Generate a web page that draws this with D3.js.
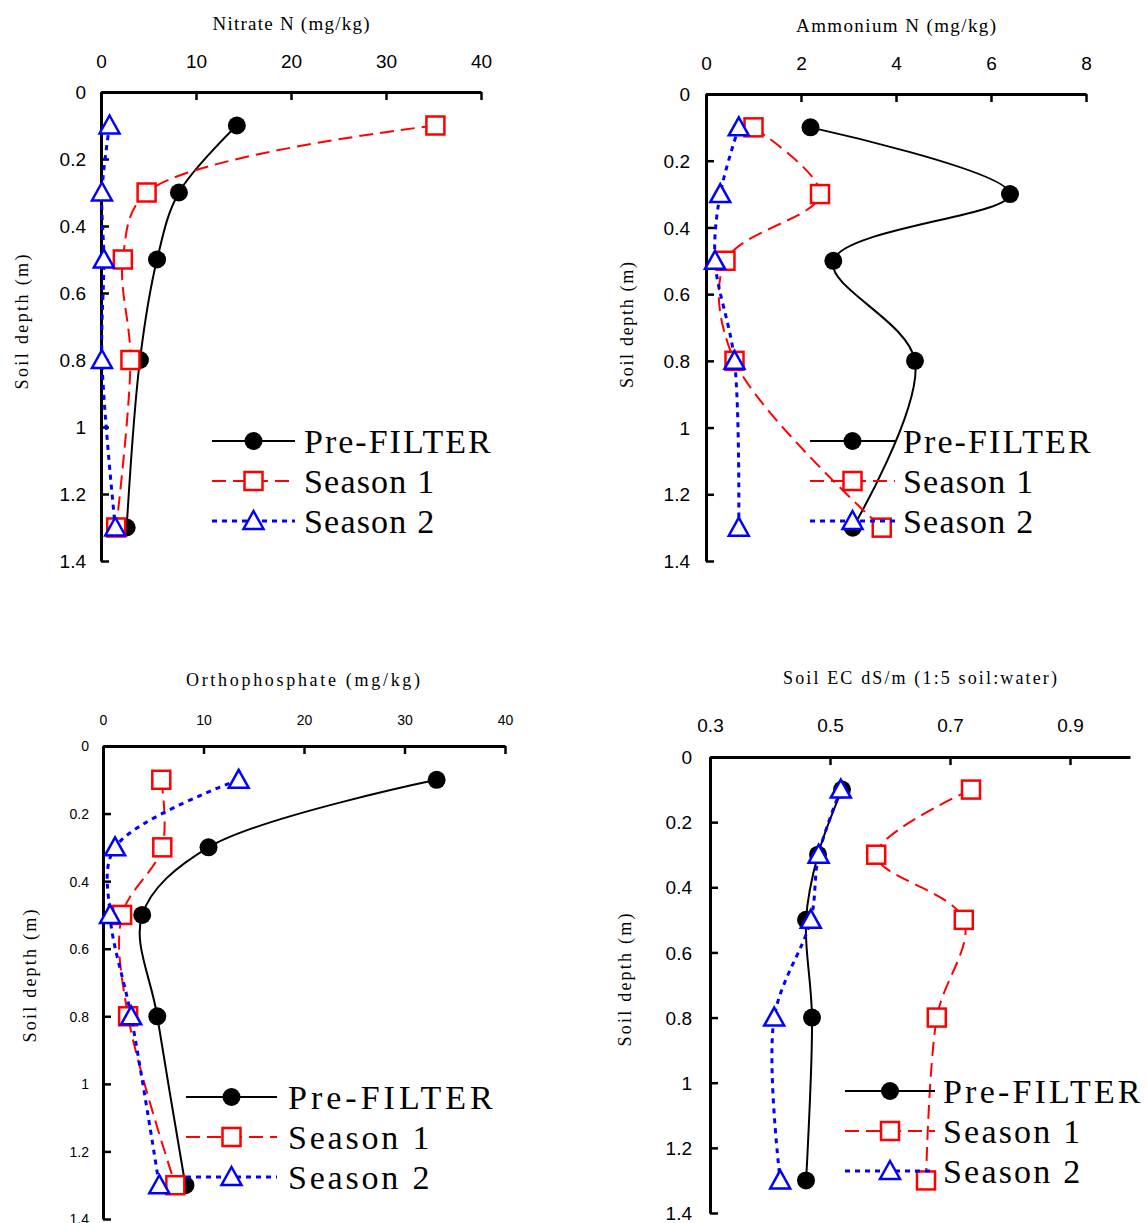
<!DOCTYPE html>
<html>
<head>
<meta charset="utf-8">
<script src="https://cdn.jsdelivr.net/npm/d3@7"></script>
<style>
  body { margin: 0; background: #fff; }
  svg { display: block; }
</style>
</head>
<body>
<div id="chart"></div>
<script>
// sampling depths (m) and series names
var depths = [0.1, 0.3, 0.5, 0.8, 1.3];
var depthTicks = [0, 0.2, 0.4, 0.6, 0.8, 1, 1.2, 1.4];
var seriesNames = ["Pre-FILTER", "Season 1", "Season 2"];

// Nitrate N (mg/kg)
var nitratePre = [14.3, 8.2, 5.9, 4.1, 2.7];
var nitrateS1 = [35.2, 4.8, 2.3, 3.1, 1.6];
var nitrateS2 = [0.9, 0.1, 0.3, 0.1, 1.5];
var nitrateTicks = [0, 10, 20, 30, 40];

// Ammonium N (mg/kg)
var ammoniumPre = [2.2, 6.4, 2.68, 4.4, 3.09];
var ammoniumS1 = [1.0, 2.4, 0.41, 0.6, 3.7];
var ammoniumS2 = [0.69, 0.3, 0.19, 0.6, 0.69];
var ammoniumTicks = [0, 2, 4, 6, 8];

// Orthophosphate (mg/kg)
var orthoPre = [33.2, 10.5, 3.9, 5.4, 8.2];
var orthoS1 = [5.8, 5.9, 1.9, 2.5, 7.2];
var orthoS2 = [13.5, 1.2, 0.7, 2.8, 5.6];
var orthoTicks = [0, 10, 20, 30, 40];

// Soil EC dS/m
var ecPre = [0.52, 0.48, 0.46, 0.47, 0.46];
var ecS1 = [0.735, 0.577, 0.723, 0.678, 0.66];
var ecS2 = [0.518, 0.481, 0.468, 0.407, 0.417];
var ecTicks = [0.3, 0.5, 0.7, 0.9];

var serif = "'Liberation Serif', 'Times New Roman', serif";
var sans = "'Liberation Sans', Arial, sans-serif";

var styles = [
  {color: "#000", dash: null, width: 2, marker: "circle"},
  {color: "#ff0000", dash: "14,7", width: 2, marker: "square"},
  {color: "#0000ff", dash: "5,5", width: 3, marker: "triangle"}
];

var panels = [
  {series: [nitratePre, nitrateS1, nitrateS2], ticks: nitrateTicks, domain: [0, 40],
   left: 101, right: 481, top: 92, bottom: 561,
   title: "Nitrate N  (mg/kg)", tx: 291, ty: 30, tlen: 157, tfont: 19,
   yx: 22, yy: 322, ylen: 135, font: 19, xpad: 24, ypad: 15,
   lx0: 212, lx1: 295, ltx: 304, ly: 441, ls: 1.2, lsPre: 2.0},
  {series: [ammoniumPre, ammoniumS1, ammoniumS2], ticks: ammoniumTicks, domain: [0, 8],
   left: 706, right: 1086, top: 94, bottom: 561,
   title: "Ammonium N  (mg/kg)", tx: 896, ty: 32, tlen: 200, tfont: 19,
   yx: 627, yy: 325, ylen: 126, font: 19, xpad: 24, ypad: 16,
   lx0: 810, lx1: 895, ltx: 903, ly: 441, ls: 1.2, lsPre: 2.1},
  {series: [orthoPre, orthoS1, orthoS2], ticks: orthoTicks, domain: [0, 40],
   left: 103, right: 505, top: 746, bottom: 1219,
   title: "Orthophosphate  (mg/kg)", tx: 303, ty: 686, tlen: 234, tfont: 18,
   yx: 30, yy: 976, ylen: 133, font: 14, xpad: 21, ypad: 14,
   lx0: 186, lx1: 277, ltx: 288, ly: 1097, ls: 2.8, lsPre: 4.0},
  {series: [ecPre, ecS1, ecS2], ticks: ecTicks, domain: [0.3, 1.0],
   left: 710, right: 1130, top: 757, bottom: 1213,
   title: "Soil EC dS/m  (1:5 soil:water)", tx: 920, ty: 684, tlen: 274, tfont: 18,
   yx: 625, yy: 980, ylen: 133, font: 19, xpad: 25, ypad: 18,
   lx0: 845, lx1: 935, ltx: 943, ly: 1091, ls: 2.2, lsPre: 3.2}
];

var svg = d3.select("#chart").append("svg")
    .attr("width", 1147).attr("height", 1223);
svg.append("rect").attr("width", 1147).attr("height", 1223).attr("fill", "#fff");

function drawMarker(g, type, cx, cy, color) {
    if (type == "circle") {
        g.append("circle").attr("cx", cx).attr("cy", cy).attr("r", 9).attr("fill", color);
    } else if (type == "square") {
        g.append("rect").attr("x", cx - 9).attr("y", cy - 9).attr("width", 18).attr("height", 18)
            .attr("fill", "#fff").attr("stroke", color).attr("stroke-width", 2.5);
    } else {
        g.append("path").attr("d", "M" + cx + "," + (cy - 10) + "L" + (cx + 10) + "," + (cy + 8) + "L" + (cx - 10) + "," + (cy + 8) + "Z")
            .attr("fill", "#fff").attr("stroke", color).attr("stroke-width", 2.5).attr("stroke-linejoin", "miter");
    }
}

panels.forEach(function(p) {
    var x = d3.scaleLinear().domain(p.domain).range([p.left, p.right]);
    var y = d3.scaleLinear().domain([0, 1.4]).range([p.top, p.bottom]);

    // x axis on top, ticks pointing down into the plot
    var xa = svg.append("g").attr("transform", "translate(0," + p.top + ")")
        .call(d3.axisTop(x).tickValues(p.ticks).tickFormat(function(d){ return d; })
            .tickSizeInner(-8).tickSizeOuter(0).tickPadding(p.xpad));
    // y axis, ticks pointing right
    var ya = svg.append("g").attr("transform", "translate(" + p.left + ",0)")
        .call(d3.axisLeft(y).tickValues(depthTicks).tickFormat(function(d){ return d; })
            .tickSizeInner(-8).tickSizeOuter(0).tickPadding(p.ypad));

    [xa, ya].forEach(function(a) {
        a.attr("font-family", sans).attr("font-size", p.font);
        a.select(".domain").attr("stroke", "#000").attr("stroke-width", 3);
        a.selectAll(".tick line").attr("stroke", "#000").attr("stroke-width", 2.5);
        a.selectAll(".tick text").attr("fill", "#000");
    });
    ya.selectAll(".tick text").attr("dy", "0.35em");

    svg.append("text").attr("x", p.tx).attr("y", p.ty).attr("text-anchor", "middle")
        .attr("font-family", serif).attr("font-size", p.tfont)
        .attr("textLength", p.tlen).attr("lengthAdjust", "spacing")
        .text(p.title);

    svg.append("text").attr("transform", "translate(" + (p.yx + 6) + "," + p.yy + ") rotate(-90)")
        .attr("text-anchor", "middle").attr("font-family", serif).attr("font-size", 18)
        .attr("textLength", p.ylen).attr("lengthAdjust", "spacing")
        .text("Soil  depth  (m)");

    var line = d3.line()
        .x(function(d){ return x(d[0]); })
        .y(function(d){ return y(d[1]); })
        .curve(d3.curveCatmullRom.alpha(0.5));

    p.series.forEach(function(vals, i) {
        var st = styles[i];
        var pts = vals.map(function(v, k){ return [v, depths[k]]; });
        var g = svg.append("g");
        g.append("path").attr("d", line(pts)).attr("fill", "none")
            .attr("stroke", st.color).attr("stroke-width", st.width)
            .attr("stroke-dasharray", st.dash);
        pts.forEach(function(d) {
            drawMarker(g, st.marker, x(d[0]), y(d[1]), st.color);
        });
    });

    // legend
    seriesNames.forEach(function(name, i) {
        var st = styles[i];
        var ry = p.ly + i * 40;
        var g = svg.append("g");
        g.append("line").attr("x1", p.lx0).attr("x2", p.lx1).attr("y1", ry).attr("y2", ry)
            .attr("stroke", st.color).attr("stroke-width", st.width)
            .attr("stroke-dasharray", st.dash);
        drawMarker(g, st.marker, (p.lx0 + p.lx1) / 2, ry, st.color);
        g.append("text").attr("x", p.ltx).attr("y", ry + 12)
            .attr("font-family", serif).attr("font-size", 34)
            .attr("letter-spacing", i == 0 ? p.lsPre : p.ls).text(name);
    });
});
</script>
</body>
</html>
